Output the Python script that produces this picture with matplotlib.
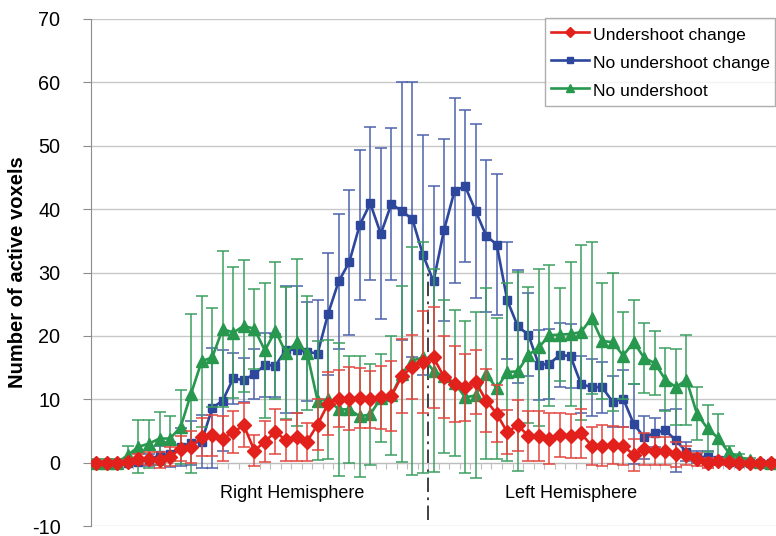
import numpy as np
import matplotlib
matplotlib.use("Agg")
import matplotlib.pyplot as plt
from matplotlib.lines import Line2D

plt.rcParams['font.family'] = ['Liberation Sans', 'DejaVu Sans']
plt.rcParams['axes.unicode_minus'] = False

# ---- data ----
series_names = ["Undershoot change", "No undershoot change", "No undershoot"]

undershoot_change = [0, 0, 0, 0.1, 0.6, 0.6, 0.4, 0.9, 2.2, 2.5,
                     4.0, 4.3, 3.8, 4.8, 5.9, 1.9, 3.3, 4.9, 3.5, 4.0,
                     3.3, 6.0, 9.3, 10.1, 10.1, 10.2, 10.0, 10.3, 10.5, 13.7,
                     15.1, 15.9, 16.6, 13.5, 12.4, 11.9, 12.7, 9.8, 7.7, 4.8,
                     5.9, 4.2, 4.2, 3.8, 4.4, 4.2, 4.6, 2.7, 2.7, 2.8,
                     2.7, 1.2, 2.1, 1.8, 1.8, 1.3, 1.2, 0.5, 0.0, 0.2,
                     0.1, 0, 0, 0, 0]
undershoot_change_err = [0.3, 0.3, 0.3, 0.3, 0.8, 1.0, 1.2, 1.5, 2.0, 2.5,
                         3.0, 3.2, 3.5, 3.3, 3.5, 2.5, 3.2, 3.6, 3.2, 3.8,
                         3.0, 4.0, 5.0, 4.5, 5.0, 4.8, 4.5, 5.0, 5.5, 5.8,
                         5.0, 8.0, 8.0, 6.5, 6.0, 5.3, 5.0, 5.0, 4.5, 3.5,
                         4.0, 4.0, 4.0, 4.0, 3.5, 3.5, 3.8, 3.0, 3.2, 3.0,
                         3.0, 2.5, 2.5, 2.2, 2.2, 2.0, 1.5, 1.0, 0.8, 0.6,
                         0.5, 0.3, 0.3, 0.3, 0.3]

no_undershoot_change = [0, 0, 0, 0, 0.1, 0.4, 1.2, 1.3, 2.5, 3.1,
                        3.3, 8.6, 9.8, 13.3, 13.0, 14.0, 15.4, 15.3, 17.8, 17.8,
                        17.5, 17.2, 23.5, 28.6, 31.6, 37.5, 40.9, 36.1, 40.8, 39.7,
                        38.4, 32.8, 28.6, 36.7, 42.9, 43.6, 39.7, 35.8, 34.4, 25.6,
                        21.5, 20.2, 15.4, 15.6, 17.0, 16.8, 12.4, 11.9, 11.9, 9.6,
                        10.1, 6.1, 4.0, 4.7, 5.1, 3.5, 1.7, 0.9, 0.9, 0.4,
                        0.1, 0, 0, 0, 0]
no_undershoot_change_err = [0.2, 0.2, 0.2, 0.2, 0.5, 1.0, 1.5, 2.0, 3.0, 3.5,
                            4.2, 9.5, 8.0, 4.0, 3.5, 4.0, 5.0, 5.0, 10.0, 10.0,
                            7.8, 8.5, 9.6, 10.6, 11.4, 11.9, 12.1, 13.5, 12.0, 20.4,
                            21.7, 18.9, 15.0, 14.4, 14.6, 12.0, 13.8, 12.0, 11.1, 9.2,
                            8.9, 6.5, 5.5, 5.5, 5.0, 5.0, 4.5, 4.5, 4.0, 4.0,
                            4.5, 6.3, 3.4, 2.3, 3.2, 5.0, 1.5, 1.0, 1.0, 0.5,
                            0.3, 0.2, 0.2, 0.2, 0.2]

no_undershoot = [0, 0, 0, 1.2, 2.5, 3.0, 3.8, 3.8, 5.6, 10.9,
                 16.0, 16.6, 21.1, 20.5, 21.6, 21.1, 17.7, 20.8, 17.3, 19.0,
                 17.3, 9.8, 10.0, 8.4, 8.4, 7.3, 7.6, 10.2, 10.6, 14.0,
                 16.1, 16.6, 14.5, 13.6, 12.6, 10.3, 10.6, 14.0, 11.7, 14.3,
                 14.4, 17.0, 18.2, 20.1, 20.2, 20.3, 20.6, 22.8, 19.2, 19.0,
                 16.9, 19.0, 16.5, 15.7, 13.1, 11.9, 13.1, 7.7, 5.4, 3.9,
                 1.6, 0.9, 0.4, 0.1, 0]
no_undershoot_err = [0.5, 0.5, 0.5, 1.5, 4.2, 3.8, 4.2, 3.5, 5.8, 12.6,
                     10.3, 7.8, 12.3, 10.3, 10.4, 6.3, 10.6, 10.8, 10.4, 13.2,
                     9.0, 9.4, 9.4, 10.5, 8.5, 9.5, 8.0, 7.0, 9.4, 13.9,
                     18.0, 18.2, 16.0, 12.1, 11.5, 12.0, 13.1, 13.5, 11.1, 14.0,
                     15.7, 10.7, 12.4, 11.1, 7.3, 11.4, 13.8, 12.0, 9.1, 10.9,
                     6.9, 6.6, 5.5, 5.1, 5.0, 6.0, 7.1, 4.2, 3.7, 3.8,
                     1.0, 0.5, 0.3, 0.2, 0.1]

hemisphere_labels = ["Right Hemisphere", "Left Hemisphere"]
hemisphere_label_x = [18.6, 45.1]
divider_position = 31.5

x = np.arange(len(undershoot_change))

# ---- figure ----
fig = plt.figure(figsize=(7.76, 5.36), dpi=100)
ax = fig.add_axes([91/776, 1 - 526/536, (776 - 91)/776, (526 - 19)/536])

ax.set_ylim(-10, 70)
ax.set_xlim(-0.5, len(x) - 0.5)
ax.set_yticks(np.arange(-10, 71, 10))
ax.yaxis.grid(True, color='#c8c8c8', lw=1.0)
ax.set_axisbelow(True)

for s in ['top', 'right']:
    ax.spines[s].set_visible(False)
ax.spines['left'].set_color('#8c8c8c')
ax.spines['bottom'].set_position(('data', 0))
ax.spines['bottom'].set_color('#bdbdbd')
ax.set_xticks(np.arange(-0.5, len(x), 1.0))
ax.tick_params(axis='x', direction='out', length=4, color='#bdbdbd', labelbottom=False)
ax.tick_params(axis='y', direction='out', length=6, color='#8c8c8c', labelsize=14.3, pad=16)

# divider line
ax.plot([divider_position, divider_position], [-9, 30], color='#333333', lw=1.3,
        linestyle=(0, (8, 3, 1.5, 3)), zorder=2)

styles = [
    dict(y=undershoot_change, e=undershoot_change_err, c='#e3211c', ec='#e4463f', m='D', ms=7.3, z=6),
    dict(y=no_undershoot_change, e=no_undershoot_change_err, c='#2c479b', ec='#4d63ad', m='s', ms=5.8, z=4),
    dict(y=no_undershoot, e=no_undershoot_err, c='#27984e', ec='#3c9f60', m='^', ms=9.3, z=5),
]
handles = []
for name, st in zip(series_names, styles):
    ax.errorbar(x, st['y'], yerr=st['e'], fmt='none', ecolor=st['ec'], elinewidth=1.1,
                capsize=4, capthick=1.1, zorder=st['z'] - 0.5)
    ax.plot(x, st['y'], color=st['c'], lw=1.9, marker=st['m'], ms=st['ms'],
            mec=st['c'], mfc=st['c'], zorder=st['z'])
    handles.append(Line2D([], [], color=st['c'], lw=1.9, marker=st['m'],
                          ms=st['ms'] * 0.65, mec=st['c'], mfc=st['c']))

for lab, lx in zip(hemisphere_labels, hemisphere_label_x):
    ax.text(lx, -4.9, lab, ha='center', va='center', fontsize=13)

ax.set_ylabel("Number of active voxels", fontsize=14.5, fontweight='bold')
ax.yaxis.set_label_coords(-0.094, 0.5)

leg = fig.legend(handles, series_names, loc='upper left',
                 bbox_to_anchor=(545/776, 1 - 18/536), bbox_transform=fig.transFigure,
                 fontsize=12.6, frameon=True, fancybox=False, handlelength=2.2,
                 handleheight=1.4, handletextpad=0.2, labelspacing=0.45,
                 borderpad=0.32, borderaxespad=0)
leg.get_frame().set_edgecolor('#9a9a9a')
leg.get_frame().set_linewidth(1.0)

fig.savefig("out.png", dpi=100)
